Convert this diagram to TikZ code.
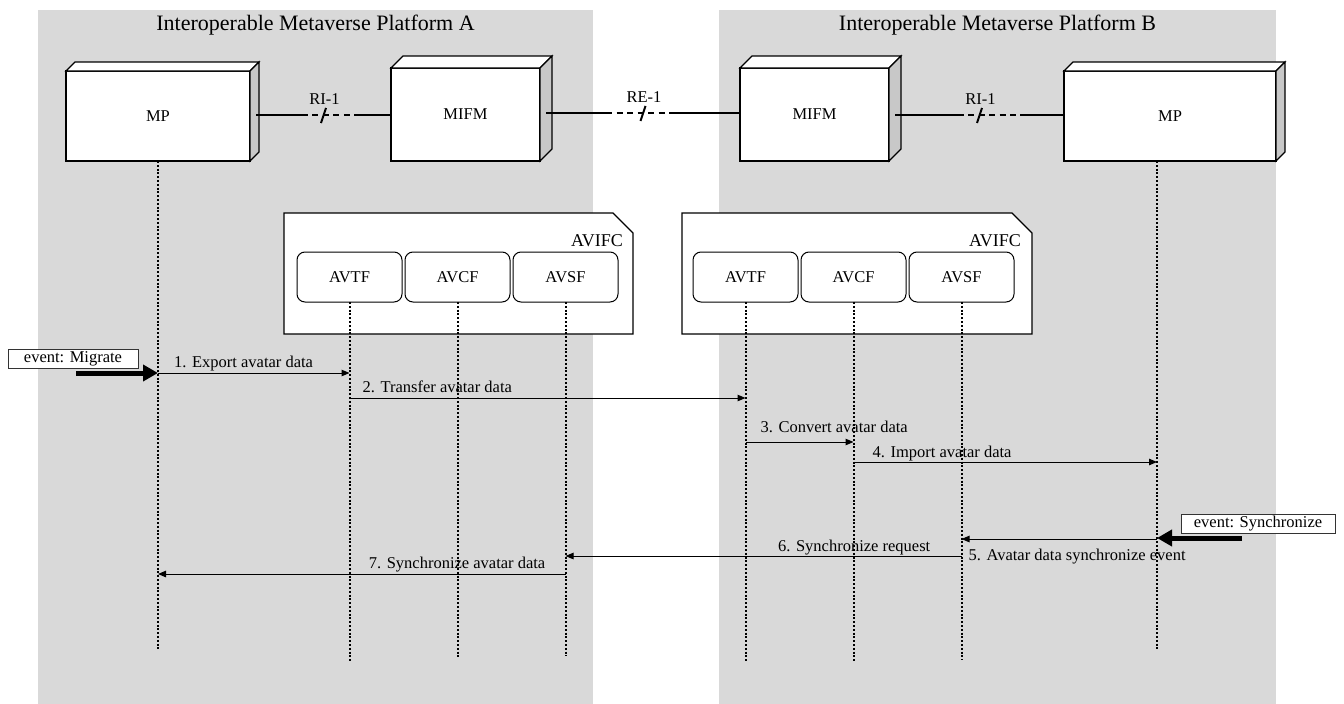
\documentclass[tikz,border=0pt]{standalone}
\usepackage{fontspec}
\setmainfont{Liberation Serif}
\usetikzlibrary{calc,arrows.meta}

\definecolor{panelgray}{RGB}{217,217,217}
\definecolor{sidegray}{RGB}{200,200,200}

\tikzset{
  txt/.style={font=\fontsize{16.5}{19}\selectfont, inner sep=0pt},
  titletxt/.style={font=\fontsize{22}{26}\selectfont, inner sep=0pt},
  grouptxt/.style={font=\fontsize{18}{21}\selectfont, inner sep=0pt},
  front/.style={draw, fill=white, line width=1.2pt, inner sep=0pt, outer sep=0pt,
    font=\fontsize{16.5}{19}\selectfont},
  func/.style={draw, fill=white, rounded corners=8pt, minimum width=105pt,
    minimum height=50pt, inner sep=0pt, outer sep=0pt, line width=1pt,
    font=\fontsize{16.5}{19}\selectfont},
  eventbox/.style={draw=black!80, fill=white, line width=1pt, minimum height=19pt,
    inner sep=0pt, outer sep=0pt, font=\fontsize{16.5}{19}\selectfont},
  life/.style={line width=2pt, dash pattern=on 2pt off 1.8pt},
  msg/.style={line width=1pt, -{Triangle[length=8pt,width=6.5pt]}},
  trigger/.style={line width=5pt, -{Triangle[length=15pt,width=16pt]}},
  conn/.style={line width=1.1pt},
  connmid/.style={line width=1.1pt, dash pattern=on 6pt off 4.5pt},
}

% top and right faces of a solid box around a front node
\newcommand\solidfaces[2]{%
  \draw[line width=1.2pt, fill=white] (#1.north west) -- ++(#2,-#2)
    -- ($(#1.north east)+(#2,-#2)$) -- (#1.north east) -- cycle;
  \draw[line width=1.2pt, fill=sidegray] (#1.north east) -- ++(#2,-#2)
    -- ($(#1.south east)+(#2,-#2)$) -- (#1.south east) -- cycle;
}

% reference point link: solid, dashed middle with a slash, solid
\newcommand\refpointlink[6]{%
  \draw[conn] (#1) -- ($(#1)!#4!(#2)$);
  \draw[connmid] ($(#1)!#4!(#2)$) -- ($(#1)!#5!(#2)$);
  \draw[conn] ($(#1)!#5!(#2)$) -- (#2);
  \coordinate (#6) at ($(#1)!0.5!(#2)$);
  \draw[line width=2pt] ($(#6)+(-2.5,8)$) -- ($(#6)+(2.5,-7)$);
  \node[txt, anchor=base] at ($(#6)+(1,-11)$) {#3};
}

\begin{document}
\begin{tikzpicture}[x=1pt, y=-1pt]
\useasboundingbox (0,0) rectangle (1344,704);

% platform panels
\fill[panelgray] (38,10) rectangle (593,704);
\fill[panelgray] (719,10) rectangle (1276,704);
\node[titletxt] (titleA) at (315.5,25) {Interoperable Metaverse Platform A};
\node[titletxt] (titleB) at (997.5,25) {Interoperable Metaverse Platform B};

% platform entities
\node[front, minimum width=184pt, minimum height=90pt] (mpA) at (158,116) {MP};
\node[front, minimum width=149pt, minimum height=93pt] (mifmA) at (465.5,114.5) {MIFM};
\node[front, minimum width=149pt, minimum height=93pt] (mifmB) at (814.5,114.5) {MIFM};
\node[front, minimum width=212pt, minimum height=90pt] (mpB) at (1170,116) {MP};
\solidfaces{mpA}{9}
\solidfaces{mifmA}{12}
\solidfaces{mifmB}{12}
\solidfaces{mpB}{9}

% reference points
\coordinate (riAl) at ($(mpA.east)+(6,-1)$);
\coordinate (riAr) at (mifmA.west |- riAl);
\coordinate (reL) at ($(mifmA.east)+(6,-1.5)$);
\coordinate (reR) at (mifmB.west |- reL);
\coordinate (riBl) at ($(mifmB.east)+(6,0.5)$);
\coordinate (riBr) at (mpB.west |- riBl);
\refpointlink{riAl}{riAr}{RI-1}{0.34}{0.73}{riAm}
\refpointlink{reL}{reR}{RE-1}{0.31}{0.66}{reM}
\refpointlink{riBl}{riBr}{RI-1}{0.37}{0.74}{riBm}

% AVIFC groups
\draw[line width=1.2pt, fill=white] (284,213) -- (613,213) -- (633,233) -- (633,334) -- (284,334) -- cycle;
\node[grouptxt, anchor=base east] (avifcA) at (623,246) {AVIFC};
\draw[line width=1.2pt, fill=white] (682,213) -- (1012,213) -- (1032,233) -- (1032,334) -- (682,334) -- cycle;
\node[grouptxt, anchor=base east] (avifcB) at (1021,246) {AVIFC};

\node[func] (avtfA) at (349.5,277) {AVTF};
\node[func] (avcfA) at (457.5,277) {AVCF};
\node[func] (avsfA) at (565.5,277) {AVSF};
\node[func] (avtfB) at (745.5,277) {AVTF};
\node[func] (avcfB) at (853.5,277) {AVCF};
\node[func] (avsfB) at (961.5,277) {AVSF};

% lifelines
\coordinate (topMpB) at ($(mpB.south)+(-13,0)$);
\coordinate (endMpA) at (mpA.south |- 0,650);
\coordinate (endAvtfA) at (avtfA.south |- 0,661);
\coordinate (endAvcfA) at (avcfA.south |- 0,657);
\coordinate (endAvsfA) at (avsfA.south |- 0,656);
\coordinate (endAvtfB) at (avtfB.south |- 0,661);
\coordinate (endAvcfB) at (avcfB.south |- 0,661);
\coordinate (endAvsfB) at (avsfB.south |- 0,660);
\coordinate (endMpB) at (topMpB |- 0,650);
\draw[life] (mpA.south) -- (endMpA);
\draw[life] (avtfA.south) -- (endAvtfA);
\draw[life] (avcfA.south) -- (endAvcfA);
\draw[life] (avsfA.south) -- (endAvsfA);
\draw[life] (avtfB.south) -- (endAvtfB);
\draw[life] (avcfB.south) -- (endAvcfB);
\draw[life] (avsfB.south) -- (endAvsfB);
\draw[life] (topMpB) -- (endMpB);

% triggering events
\node[eventbox, minimum width=130pt] (evMigrate) at (73,358.5) {event: Migrate};
\coordinate (tMigrate) at (76,373);
\draw[trigger] (tMigrate) -- (mpA.south |- tMigrate);
\node[eventbox, minimum width=154pt] (evSync) at (1258,523.5) {event: Synchronize};
\coordinate (tSync) at (1242,538);
\draw[trigger] (tSync) -- (topMpB |- tSync);

% messages
\coordinate (m1s) at (mpA.south |- 0,373);
\draw[msg] (m1s) -- (avtfA.south |- m1s);
\node[txt, anchor=base west] (m1) at ($(m1s)+(16,-6)$) {1. Export avatar data};

\coordinate (m2s) at (avtfA.south |- 0,398);
\draw[msg] (m2s) -- (avtfB.south |- m2s);
\node[txt, anchor=base west] (m2) at ($(m2s)+(13,-6)$) {2. Transfer avatar data};

\coordinate (m3s) at (avtfB.south |- 0,442);
\draw[msg] (m3s) -- (avcfB.south |- m3s);
\node[txt, anchor=base west] (m3) at ($(m3s)+(15,-10)$) {3. Convert avatar data};

\coordinate (m4s) at (avcfB.south |- 0,462);
\draw[msg] (m4s) -- (topMpB |- m4s);
\node[txt, anchor=base west] (m4) at ($(m4s)+(19,-5)$) {4. Import avatar data};

\coordinate (m5s) at (topMpB |- 0,539);
\draw[msg] (m5s) -- (avsfB.south |- m5s);
\node[txt, anchor=base west] (m5) at ($(avsfB.south |- m5s)+(7,21)$) {5. Avatar data synchronize event};

\coordinate (m6s) at (avsfB.south |- 0,556);
\draw[msg] (m6s) -- (avsfA.south |- m6s);
\node[txt, anchor=base east] (m6) at ($(m6s)+(-31,-5)$) {6. Synchronize request};

\coordinate (m7s) at (avsfA.south |- 0,574);
\draw[msg] (m7s) -- (mpA.south |- m7s);
\node[txt, anchor=base east] (m7) at ($(m7s)+(-20,-6)$) {7. Synchronize avatar data};
\end{tikzpicture}
\end{document}
